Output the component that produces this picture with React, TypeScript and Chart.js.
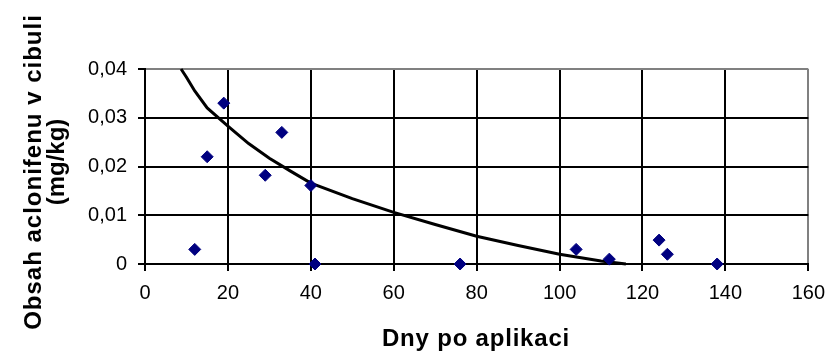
import React, { useEffect, useRef } from "react";
import { Chart, registerables } from "chart.js";

Chart.register(...registerables);

// Measured points
const days = [12, 15, 19, 29, 33, 40, 41, 76, 104, 112, 124, 126, 138];
const contents = [0.003, 0.022, 0.033, 0.0182, 0.027, 0.0161, 0, 0, 0.003, 0.001, 0.0049, 0.002, 0];

// Trend curve
const trendDays = [8.7, 10, 12, 15, 20, 25, 30, 35, 40, 50, 60, 70, 80, 90, 100, 110, 116];
const trendValues = [0.04, 0.0383, 0.0355, 0.032, 0.0283, 0.0247, 0.0217, 0.0191, 0.0166, 0.0134, 0.0106, 0.0081, 0.0057, 0.0038, 0.002, 0.0006, 0];

const xTitle = "Dny po aplikaci";
const yTitleLines = ["Obsah aclonifenu v cibuli", "(mg/kg)"];

const FONT = '"Liberation Sans", Arial, sans-serif';

const titlePlugin = {
  id: "customTitles",
  afterDraw(chart: any) {
    const ctx = chart.ctx as CanvasRenderingContext2D;
    ctx.save();
    ctx.fillStyle = "#000";
    ctx.textAlign = "center";
    ctx.textBaseline = "alphabetic";
    ctx.font = `bold 24px ${FONT}`;
    (ctx as any).letterSpacing = "0.8px";
    ctx.fillText(xTitle, 476, 346);
    ctx.translate(0, 172);
    ctx.rotate(-Math.PI / 2);
    (ctx as any).letterSpacing = "1px";
    ctx.fillText(yTitleLines[0], 0, 41);
    (ctx as any).letterSpacing = "0px";
    ctx.fillText(yTitleLines[1], 10, 64);
    ctx.restore();
  },
};

export default function App() {
  const ref = useRef<HTMLCanvasElement | null>(null);
  useEffect(() => {
    if (!ref.current) return;
    const chart = new Chart(ref.current, {
      type: "scatter",
      data: {
        datasets: [
          {
            type: "scatter",
            label: "data",
            data: days.map((d, i) => ({ x: d, y: contents[i] })),
            pointStyle: "rectRot",
            pointRadius: 6,
            pointBorderWidth: 1,
            backgroundColor: "#000080",
            borderColor: "#000080",
            clip: false,
            order: 0,
          },
          {
            type: "line",
            label: "trend",
            data: trendDays.map((d, i) => ({ x: d, y: trendValues[i] })),
            borderColor: "#000",
            borderWidth: 3,
            pointRadius: 0,
            fill: false,
            tension: 0,
            clip: false,
            order: 1,
          } as any,
        ],
      },
      options: {
        animation: false,
        responsive: false,
        maintainAspectRatio: false,
        devicePixelRatio: 1,
        layout: { padding: { left: 0, top: 69, right: 21, bottom: 0 } },
        plugins: { legend: { display: false }, tooltip: { enabled: false }, title: { display: false } },
        scales: {
          x: {
            type: "linear",
            min: 0,
            max: 160,
            ticks: {
              stepSize: 20,
              color: "#000",
              padding: 10,
              font: { family: FONT, size: 20 },
              maxRotation: 0,
            },
            grid: {
              color: (c: any) => (c.tick && c.tick.value === 160 ? "#808080" : "#000"),
              lineWidth: 2,
              tickLength: 7,
              tickColor: "#000",
              tickWidth: 2,
            },
            border: { display: true, color: "#000", width: 2 },
            afterFit: (s: any) => {
              s.height = 92;
            },
          },
          y: {
            type: "linear",
            min: 0,
            max: 0.04,
            ticks: {
              stepSize: 0.01,
              color: "#000",
              padding: 11,
              font: { family: FONT, size: 20 },
              callback: (v: any) => (Number(v) === 0 ? "0" : Number(v).toFixed(2).replace(".", ",")),
            },
            grid: {
              color: (c: any) => (c.tick && Math.abs(c.tick.value - 0.04) < 1e-9 ? "#808080" : "#000"),
              lineWidth: 2,
              tickLength: 7,
              tickColor: "#000",
              tickWidth: 2,
            },
            border: { display: true, color: "#000", width: 2 },
            afterFit: (s: any) => {
              s.width = 145;
            },
          },
        },
      },
      plugins: [titlePlugin],
    });
    return () => chart.destroy();
  }, []);
  return (
    <div style={{ position: "absolute", left: 0, top: 0, width: 835, height: 356, background: "#fff" }}>
      <canvas ref={ref} width={835} height={356} style={{ width: 835, height: 356, display: "block" }} />
    </div>
  );
}
